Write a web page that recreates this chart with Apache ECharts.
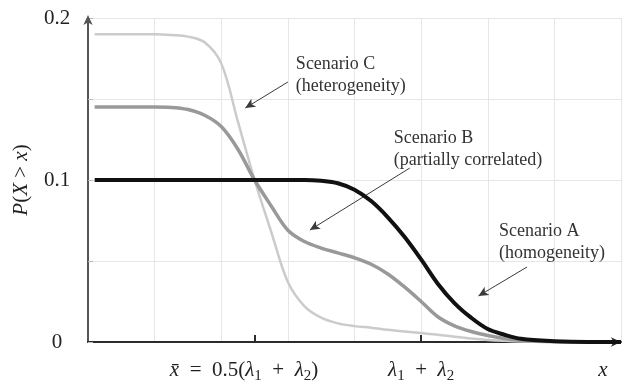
<!DOCTYPE html>
<html>
<head>
<meta charset="utf-8">
<script src="https://cdn.jsdelivr.net/npm/echarts@6/dist/echarts.min.js"></script>
<style>html,body{margin:0;padding:0;background:#fff;}#c{width:625px;height:388px;}</style>
</head>
<body>
<div id="c"></div>
<script>
// x positions (in units where x̄ = 2.5, λ1+λ2 = 5)
var xs = [0.1, 0.5, 1.0, 1.25, 1.5, 1.75, 2.0, 2.25, 2.5, 2.75, 3.0, 3.25, 3.5, 3.75, 4.0, 4.25, 4.5, 4.75, 5.0, 5.25, 5.5, 5.75, 6.0, 6.25, 6.5, 7.0, 7.5, 8.0];
var scenarioA = [0.1, 0.1, 0.1, 0.1, 0.1, 0.1, 0.1, 0.1, 0.1, 0.1, 0.1, 0.1, 0.0995, 0.098, 0.094, 0.087, 0.077, 0.065, 0.051, 0.036, 0.024, 0.015, 0.008, 0.0045, 0.002, 0.0005, 0, 0];
var scenarioB = [0.145, 0.145, 0.145, 0.1448, 0.1435, 0.140, 0.133, 0.119, 0.100, 0.084, 0.069, 0.062, 0.058, 0.055, 0.052, 0.048, 0.042, 0.034, 0.025, 0.0156, 0.010, 0.0065, 0.004, 0.0022, 0.001, 0.0002, 0, 0];
var scenarioC = [0.19, 0.19, 0.19, 0.1895, 0.1885, 0.185, 0.172, 0.136, 0.100, 0.068, 0.037, 0.022, 0.015, 0.0115, 0.0098, 0.0088, 0.0075, 0.0065, 0.0055, 0.0045, 0.0033, 0.0022, 0.0013, 0.0007, 0.0003, 0, 0, 0];
var yTickLabels = ['0', '0.1', '0.2'];
var xTickValues = [2.5, 5];
var xTickLabels = ['{i|x̄}\u2002=\u20020.5({i|λ}{s|1}\u2002+\u2002{i|λ}{s|2})\u2002\u2002', '{i|λ}{s|1}\u2002+\u2002{i|λ}{s|2}'];
var xEndValue = 7.73;
var xEndLabel = '{i|x}';
var annotations = [
  {text: 'Scenario C\n(heterogeneity)', at: [3.12, 0.1784], from: [3.00, 0.1605], to: [2.36, 0.1444]},
  {text: 'Scenario B\n(partially correlated)', at: [4.59, 0.1327], from: [4.83, 0.1074], to: [3.33, 0.0691]},
  {text: 'Scenario A\n(homogeneity)', at: [6.17, 0.0753], from: [6.59, 0.0463], to: [5.86, 0.0284]}
];

var SERIF = '"Liberation Serif", "DejaVu Serif", serif';
var chart = echarts.init(document.getElementById('c'), null, {renderer: 'canvas'});
function pairs(arr) { return xs.map(function (x, i) { return [x, arr[i]]; }); }

var richX = {
  i: {fontStyle: 'italic', fontFamily: SERIF, fontSize: 21, color: '#222', lineHeight: 28, verticalAlign: 'middle'},
  s: {fontFamily: SERIF, fontSize: 15, color: '#222', lineHeight: 15, verticalAlign: 'bottom'}
};

var option = {
  animation: false,
  backgroundColor: '#fff',
  grid: {left: 88, right: 4, top: 18, bottom: 46, containLabel: false, outerBoundsMode: 'none'},
  xAxis: [{
    type: 'value', min: 0, max: 8, interval: 1,
    axisLine: {show: true, lineStyle: {color: '#2b2b2b', width: 2}, symbol: ['none', 'arrow'], symbolSize: [7, 10], symbolOffset: [0, 0]},
    axisTick: {show: false},
    axisLabel: {show: false},
    splitLine: {show: true, lineStyle: {color: '#e6e6e6', width: 1}}
  }, {
    type: 'value', min: 0, max: 8, position: 'bottom', gridIndex: 0,
    axisLine: {show: false},
    axisTick: {show: true, inside: true, length: 7, lineStyle: {color: '#2b2b2b', width: 2}, customValues: xTickValues},
    axisLabel: {
      show: true, margin: 14, color: '#222', fontFamily: SERIF, fontSize: 21, lineHeight: 28,
      customValues: xTickValues.concat([xEndValue]),
      formatter: function (v) {
        if (Math.abs(v - xEndValue) < 1e-6) return xEndLabel;
        var k = xTickValues.indexOf(v);
        return k >= 0 ? xTickLabels[k] : '';
      },
      rich: richX
    },
    splitLine: {show: false}
  }],
  yAxis: {
    type: 'value', min: 0, max: 0.2, interval: 0.05,
    name: '{i|P}({i|X} > {i|x})', nameLocation: 'middle', nameGap: 56, nameRotate: 90,
    nameTextStyle: {fontFamily: SERIF, fontSize: 21, color: '#222',
      rich: {i: {fontStyle: 'italic', fontFamily: SERIF, fontSize: 21, color: '#222'}}},
    axisLine: {show: true, lineStyle: {color: '#555', width: 2}, symbol: ['none', 'arrow'], symbolSize: [7, 10], symbolOffset: [0, 3]},
    axisTick: {show: true, inside: true, length: 5, lineStyle: {color: '#bbb', width: 1}},
    axisLabel: {
      margin: 31, align: 'center', color: '#222', fontFamily: SERIF, fontSize: 21,
      formatter: function (v) {
        var k = Math.round(v * 10);
        if (Math.abs(v * 10 - k) < 1e-6 && k >= 0 && k < yTickLabels.length) return yTickLabels[k];
        return '';
      }
    },
    splitLine: {show: true, lineStyle: {color: '#e6e6e6', width: 1}}
  },
  series: [
    {name: 'Scenario C', type: 'line', xAxisIndex: 0, data: pairs(scenarioC), showSymbol: false, smooth: 0.35,
      lineStyle: {color: '#cbcbcb', width: 2.5}, z: 3,
      markLine: {silent: true, symbol: ['none', 'arrow'], symbolSize: [7, 10], label: {show: false},
        lineStyle: {color: '#3a3a3a', width: 1, type: 'solid'},
        data: annotations.map(function (a) { return [{coord: a.from}, {coord: a.to}]; })}
    },
    {name: 'Scenario B', type: 'line', xAxisIndex: 0, data: pairs(scenarioB), showSymbol: false, smooth: 0.35,
      lineStyle: {color: '#999', width: 3.5}, z: 4},
    {name: 'Scenario A', type: 'line', xAxisIndex: 0, data: pairs(scenarioA), showSymbol: false, smooth: 0.35,
      lineStyle: {color: '#111', width: 4}, z: 5}
  ]
};
chart.setOption(option);

var g = annotations.map(function (a) {
  var p = chart.convertToPixel({gridIndex: 0}, a.at);
  return {type: 'text', x: p[0], y: p[1], silent: true,
    style: {text: a.text, fill: '#333', font: '18px ' + SERIF, lineHeight: 22, textAlign: 'left', textVerticalAlign: 'top'}};
});
chart.setOption({graphic: g});
</script>
</body>
</html>
